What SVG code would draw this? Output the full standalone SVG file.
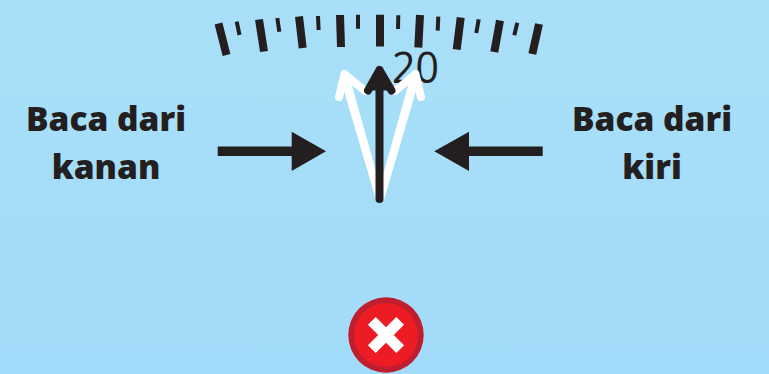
<svg xmlns="http://www.w3.org/2000/svg" width="769" height="374" viewBox="0 0 769 374">
<defs><linearGradient id="sky" x1="0" y1="0" x2="0" y2="1"><stop offset="0" stop-color="#a9dff8"/><stop offset="1" stop-color="#a2dbf9"/></linearGradient></defs>
<style>
.maj{stroke:#231f20;stroke-width:8;fill:none}
.min{stroke:#231f20;stroke-width:4;fill:none}
.lbl{font-family:"Open Sans","Noto Sans",sans-serif;font-weight:800;font-size:33.5px;fill:#231f20;text-anchor:middle}
.num{font-family:"Open Sans","Noto Sans",sans-serif;font-size:43px;fill:#231f20;text-anchor:start}
.wh{stroke:#fff;stroke-width:8;fill:none;stroke-linecap:round;stroke-linejoin:round}
.bk{stroke:#231f20;stroke-width:8;fill:none;stroke-linecap:round;stroke-linejoin:round}
.dk{fill:#231f20}
</style>
<rect fill="url(#sky)" width="769" height="374"/>
<g id="scale">
<path class="maj" d="M218.5 23.5L226.5 55M259 19.5L264 51.5M299 16.5L302.7 48M340 15L341 47M380 14.7V46.5M420 15L418.3 47.5M460.7 17.5L456.7 49.5M500 20.5L494.3 52M539 24L532.3 54"/>
<path class="min" d="M236.7 21.7L239.5 35M277.3 18L279.3 31.7M318 16L318.6 30M358 14.7V28.7M398.3 15.3L398 29M438.3 16.7L437.7 30.7M478.7 19.3L476.3 33M517.3 22.7L514.3 35.3"/>
<text class="num" x="392" y="83" textLength="47" lengthAdjust="spacingAndGlyphs">20</text>
</g>
<g id="needles">
<path class="wh" d="M339 97L344.5 74L365 91"/>
<path class="wh" d="M421 97L415.5 74L395 91"/>
<path fill="#fff" d="M340 77L349 75L384 200L376 200ZM411 75L420 77L384 200L376 200Z"/>
<path class="bk" d="M368 90.5L379.5 70L391.5 90.5M379.5 70V199"/>
<path class="dk" d="M379.5 68L368 90.5H391.5Z"/>
</g>
<g id="left-label">
<text class="lbl" x="106" y="130.5">Baca dari</text>
<text class="lbl" x="106" y="178.5">kanan</text>
</g>
<g id="right-label">
<text class="lbl" x="652" y="130.5">Baca dari</text>
<text class="lbl" x="652" y="178.5">kiri</text>
</g>
<g id="connectors">
<path class="dk" d="M217.7 146.5H291.7V131.7L326 151.3L291.7 171V156H217.7Z"/>
<path class="dk" d="M542.7 146.5H469V131.7L434.3 151.3L469 171V156H542.7Z"/>
</g>
<g id="badge">
<circle cx="386" cy="335" r="37.7" fill="#be1e2d"/>
<circle cx="386" cy="335" r="32" fill="#ed1c24"/>
<path d="M371.8 320.8L400.2 349.2M400.2 320.8L371.8 349.2" stroke="#fff" stroke-width="11" stroke-linejoin="round" fill="none"/>
</g>
</svg>
